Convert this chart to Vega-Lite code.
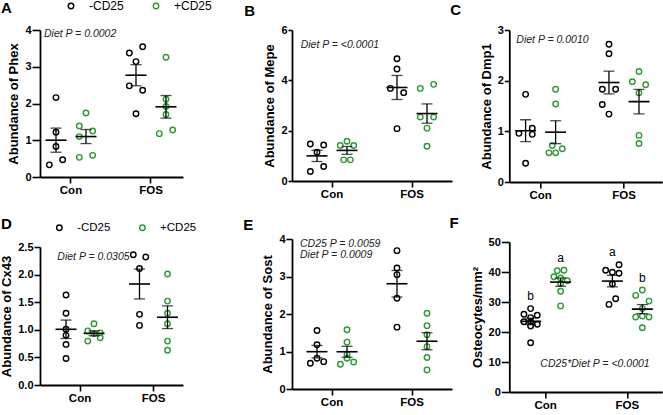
{
  "$schema": "https://vega.github.io/schema/vega-lite/v6.json",
  "padding": {"left": 0, "top": 0, "right": 0, "bottom": 0},
  "config": {
    "font": "Liberation Sans",
    "view": {"stroke": null},
    "axis": {"domainColor": "black", "domainWidth": 1.8, "tickColor": "black", "tickWidth": 1.6, "labelColor": "black", "labelFontWeight": "bold", "titleFontWeight": "bold", "titleColor": "black", "grid": false},
    "axisX": {"labelFontSize": 11.5, "labelAngle": 0, "tickSize": 6, "labelPadding": 1},
    "axisY": {"labelFontSize": 11, "titleFontSize": 13, "labelPadding": 1, "titlePadding": 4},
    "legend": {"labelFont": "Liberation Sans", "labelColor": "black", "symbolType": "circle", "symbolSize": 30, "symbolStrokeWidth": 1.4, "labelOffset": 12, "columnPadding": 26, "padding": 0}
  },
  "datasets": {
    "pts": [
      {"p":"A","d":"Con","g":"-CD25","s":"m-2","v":0.33},{"p":"A","d":"Con","g":"-CD25","s":"m2","v":0.47},{"p":"A","d":"Con","g":"-CD25","s":"m0","v":0.83},{"p":"A","d":"Con","g":"-CD25","s":"m0","v":1.22},{"p":"A","d":"Con","g":"-CD25","s":"m0","v":2.16},
      {"p":"A","d":"Con","g":"+CD25","s":"p-2","v":0.535},{"p":"A","d":"Con","g":"+CD25","s":"p2","v":0.59},{"p":"A","d":"Con","g":"+CD25","s":"p-2","v":1.10},{"p":"A","d":"Con","g":"+CD25","s":"p-2","v":1.39},{"p":"A","d":"Con","g":"+CD25","s":"p2","v":1.25},{"p":"A","d":"Con","g":"+CD25","s":"p0","v":1.74},
      {"p":"A","d":"FOS","g":"-CD25","s":"m-2","v":3.375},{"p":"A","d":"FOS","g":"-CD25","s":"m2","v":3.545},{"p":"A","d":"FOS","g":"-CD25","s":"m0","v":3.14},{"p":"A","d":"FOS","g":"-CD25","s":"m-2","v":2.48},{"p":"A","d":"FOS","g":"-CD25","s":"m2","v":2.36},{"p":"A","d":"FOS","g":"-CD25","s":"m0","v":1.72},
      {"p":"A","d":"FOS","g":"+CD25","s":"p0","v":3.26},{"p":"A","d":"FOS","g":"+CD25","s":"p0","v":2.115},{"p":"A","d":"FOS","g":"+CD25","s":"p0","v":1.92},{"p":"A","d":"FOS","g":"+CD25","s":"p0","v":1.70},{"p":"A","d":"FOS","g":"+CD25","s":"p-2","v":1.18},{"p":"A","d":"FOS","g":"+CD25","s":"p2","v":1.28},

      {"p":"B","d":"Con","g":"-CD25","s":"m-2","v":0.375},{"p":"B","d":"Con","g":"-CD25","s":"m2","v":0.576},{"p":"B","d":"Con","g":"-CD25","s":"m0","v":1.14},{"p":"B","d":"Con","g":"-CD25","s":"m-2","v":1.47},{"p":"B","d":"Con","g":"-CD25","s":"m2","v":1.43},
      {"p":"B","d":"Con","g":"+CD25","s":"p-2","v":1.41},{"p":"B","d":"Con","g":"+CD25","s":"p0","v":1.58},{"p":"B","d":"Con","g":"+CD25","s":"p2","v":1.41},{"p":"B","d":"Con","g":"+CD25","s":"p-1","v":0.84},{"p":"B","d":"Con","g":"+CD25","s":"p1","v":0.84},
      {"p":"B","d":"FOS","g":"-CD25","s":"m0","v":4.86},{"p":"B","d":"FOS","g":"-CD25","s":"m0","v":4.45},{"p":"B","d":"FOS","g":"-CD25","s":"m-2","v":3.68},{"p":"B","d":"FOS","g":"-CD25","s":"m2","v":3.51},{"p":"B","d":"FOS","g":"-CD25","s":"m0","v":2.08},
      {"p":"B","d":"FOS","g":"+CD25","s":"p-2","v":3.68},{"p":"B","d":"FOS","g":"+CD25","s":"p2","v":3.84},{"p":"B","d":"FOS","g":"+CD25","s":"p-2","v":2.54},{"p":"B","d":"FOS","g":"+CD25","s":"p2","v":2.54},{"p":"B","d":"FOS","g":"+CD25","s":"p0","v":2.10},{"p":"B","d":"FOS","g":"+CD25","s":"p0","v":1.38},

      {"p":"C","d":"Con","g":"-CD25","s":"m0","v":1.73},{"p":"C","d":"Con","g":"-CD25","s":"m-2","v":0.96},{"p":"C","d":"Con","g":"-CD25","s":"m2","v":1.06},{"p":"C","d":"Con","g":"-CD25","s":"m2","v":0.94},{"p":"C","d":"Con","g":"-CD25","s":"m0","v":0.37},
      {"p":"C","d":"Con","g":"+CD25","s":"p0","v":1.83},{"p":"C","d":"Con","g":"+CD25","s":"p0","v":1.54},{"p":"C","d":"Con","g":"+CD25","s":"p-2","v":0.576},{"p":"C","d":"Con","g":"+CD25","s":"p0","v":0.576},{"p":"C","d":"Con","g":"+CD25","s":"p2","v":0.656},{"p":"C","d":"Con","g":"+CD25","s":"p-1","v":0.72},
      {"p":"C","d":"FOS","g":"-CD25","s":"m0","v":2.72},{"p":"C","d":"FOS","g":"-CD25","s":"m0","v":2.53},{"p":"C","d":"FOS","g":"-CD25","s":"m-2","v":1.83},{"p":"C","d":"FOS","g":"-CD25","s":"m2","v":1.83},{"p":"C","d":"FOS","g":"-CD25","s":"m-2","v":1.53},{"p":"C","d":"FOS","g":"-CD25","s":"m0","v":1.34},
      {"p":"C","d":"FOS","g":"+CD25","s":"p0","v":2.18},{"p":"C","d":"FOS","g":"+CD25","s":"p-2","v":1.98},{"p":"C","d":"FOS","g":"+CD25","s":"p2","v":1.92},{"p":"C","d":"FOS","g":"+CD25","s":"p0","v":1.76},{"p":"C","d":"FOS","g":"+CD25","s":"p0","v":0.92},{"p":"C","d":"FOS","g":"+CD25","s":"p0","v":0.76},

      {"p":"D","d":"Con","g":"-CD25","s":"m0","v":1.63},{"p":"D","d":"Con","g":"-CD25","s":"m0","v":1.30},{"p":"D","d":"Con","g":"-CD25","s":"m0","v":1.01},{"p":"D","d":"Con","g":"-CD25","s":"m0","v":0.90},{"p":"D","d":"Con","g":"-CD25","s":"m0","v":0.735},{"p":"D","d":"Con","g":"-CD25","s":"m0","v":0.48},
      {"p":"D","d":"Con","g":"+CD25","s":"p-2","v":0.98},{"p":"D","d":"Con","g":"+CD25","s":"p0","v":1.11},{"p":"D","d":"Con","g":"+CD25","s":"p-2","v":0.795},{"p":"D","d":"Con","g":"+CD25","s":"p2","v":0.945},{"p":"D","d":"Con","g":"+CD25","s":"p2","v":0.855},{"p":"D","d":"Con","g":"+CD25","s":"p0","v":0.93},
      {"p":"D","d":"FOS","g":"-CD25","s":"m-2","v":2.36},{"p":"D","d":"FOS","g":"-CD25","s":"m2","v":2.32},{"p":"D","d":"FOS","g":"-CD25","s":"m0","v":2.11},{"p":"D","d":"FOS","g":"-CD25","s":"m0","v":1.28},{"p":"D","d":"FOS","g":"-CD25","s":"m0","v":1.08},
      {"p":"D","d":"FOS","g":"+CD25","s":"p0","v":2.01},{"p":"D","d":"FOS","g":"+CD25","s":"p0","v":1.52},{"p":"D","d":"FOS","g":"+CD25","s":"p0","v":1.30},{"p":"D","d":"FOS","g":"+CD25","s":"p0","v":1.11},{"p":"D","d":"FOS","g":"+CD25","s":"p0","v":0.795},{"p":"D","d":"FOS","g":"+CD25","s":"p0","v":0.63},

      {"p":"E","d":"Con","g":"-CD25","s":"m0","v":1.56},{"p":"E","d":"Con","g":"-CD25","s":"m0","v":1.18},{"p":"E","d":"Con","g":"-CD25","s":"m0","v":0.82},{"p":"E","d":"Con","g":"-CD25","s":"m-2","v":0.685},{"p":"E","d":"Con","g":"-CD25","s":"m2","v":0.73},
      {"p":"E","d":"Con","g":"+CD25","s":"p0","v":1.58},{"p":"E","d":"Con","g":"+CD25","s":"p0","v":1.25},{"p":"E","d":"Con","g":"+CD25","s":"p0","v":0.93},{"p":"E","d":"Con","g":"+CD25","s":"p0","v":0.82},{"p":"E","d":"Con","g":"+CD25","s":"p-2","v":0.66},{"p":"E","d":"Con","g":"+CD25","s":"p2","v":0.72},
      {"p":"E","d":"FOS","g":"-CD25","s":"m0","v":3.69},{"p":"E","d":"FOS","g":"-CD25","s":"m0","v":3.225},{"p":"E","d":"FOS","g":"-CD25","s":"m0","v":3.05},{"p":"E","d":"FOS","g":"-CD25","s":"m0","v":2.42},{"p":"E","d":"FOS","g":"-CD25","s":"m0","v":1.65},
      {"p":"E","d":"FOS","g":"+CD25","s":"p0","v":2.02},{"p":"E","d":"FOS","g":"+CD25","s":"p0","v":1.69},{"p":"E","d":"FOS","g":"+CD25","s":"p0","v":1.45},{"p":"E","d":"FOS","g":"+CD25","s":"p0","v":1.13},{"p":"E","d":"FOS","g":"+CD25","s":"p0","v":0.84},{"p":"E","d":"FOS","g":"+CD25","s":"p0","v":0.51},

      {"p":"F","d":"Con","g":"-CD25","s":"m0","v":27.8},{"p":"F","d":"Con","g":"-CD25","s":"m-2","v":25.9},{"p":"F","d":"Con","g":"-CD25","s":"m2","v":25.6},{"p":"F","d":"Con","g":"-CD25","s":"m0","v":24.8},{"p":"F","d":"Con","g":"-CD25","s":"m-2","v":23.4},{"p":"F","d":"Con","g":"-CD25","s":"m0","v":23.4},{"p":"F","d":"Con","g":"-CD25","s":"m2","v":22.6},{"p":"F","d":"Con","g":"-CD25","s":"m0","v":22.0},{"p":"F","d":"Con","g":"-CD25","s":"m0","v":16.4},
      {"p":"F","d":"Con","g":"+CD25","s":"p-1","v":40.4},{"p":"F","d":"Con","g":"+CD25","s":"p1","v":40.6},{"p":"F","d":"Con","g":"+CD25","s":"p-2","v":38.4},{"p":"F","d":"Con","g":"+CD25","s":"p0","v":38.0},{"p":"F","d":"Con","g":"+CD25","s":"p2","v":37.1},{"p":"F","d":"Con","g":"+CD25","s":"p0","v":36.2},{"p":"F","d":"Con","g":"+CD25","s":"p0","v":33.6},{"p":"F","d":"Con","g":"+CD25","s":"p0","v":28.7},
      {"p":"F","d":"FOS","g":"-CD25","s":"m-2","v":40.6},{"p":"F","d":"FOS","g":"-CD25","s":"m2","v":42.4},{"p":"F","d":"FOS","g":"-CD25","s":"m0","v":39.9},{"p":"F","d":"FOS","g":"-CD25","s":"m2","v":39.6},{"p":"F","d":"FOS","g":"-CD25","s":"m0","v":36.0},{"p":"F","d":"FOS","g":"-CD25","s":"m-1","v":29.2},{"p":"F","d":"FOS","g":"-CD25","s":"m1","v":31.1},
      {"p":"F","d":"FOS","g":"+CD25","s":"p0","v":34.0},{"p":"F","d":"FOS","g":"+CD25","s":"p-2","v":32.2},{"p":"F","d":"FOS","g":"+CD25","s":"p2","v":30.3},{"p":"F","d":"FOS","g":"+CD25","s":"p0","v":27.8},{"p":"F","d":"FOS","g":"+CD25","s":"p0","v":25.3},{"p":"F","d":"FOS","g":"+CD25","s":"p-2","v":25.0},{"p":"F","d":"FOS","g":"+CD25","s":"p2","v":25.0},{"p":"F","d":"FOS","g":"+CD25","s":"p0","v":21.4}
    ],
    "notes": [
      {"p":"A","d":"Con","v":3.9,"t":"Diet P = 0.0002"},
      {"p":"B","d":"Con","v":5.42,"t":"Diet P = <0.0001"},
      {"p":"C","d":"Con","v":2.8,"t":"Diet P = 0.0010"},
      {"p":"D","d":"Con","v":2.31,"t":"Diet P = 0.0305"},
      {"p":"E","d":"Con","v":3.88,"t":"CD25 P = 0.0059"},
      {"p":"E","d":"Con","v":3.58,"t":"Diet P = 0.0009"},
      {"p":"F","d":"Con","v":9.2,"t":"CD25*Diet P = <0.0001"}
    ],
    "letters": [
      {"p":"F","d":"Con","g":"-CD25","v":31.9,"t":"b"},
      {"p":"F","d":"Con","g":"+CD25","v":44.6,"t":"a"},
      {"p":"F","d":"FOS","g":"-CD25","v":46.7,"t":"a"},
      {"p":"F","d":"FOS","g":"+CD25","v":37.9,"t":"b"}
    ],
    "tags": [
      {"p":"A","d":"Con","t":"A"},
      {"p":"B","d":"Con","t":"B"},
      {"p":"C","d":"Con","t":"C"},
      {"p":"D","d":"Con","t":"D"},
      {"p":"E","d":"Con","t":"E"},
      {"p":"F","d":"Con","t":"F"}
    ]
  },
  "resolve": {"scale": {"x": "independent", "y": "independent", "xOffset": "independent"}, "legend": {"color": "independent"}},
  "spacing": 31,
  "hconcat": [
    {
      "resolve": {"scale": {"x": "independent", "y": "independent", "xOffset": "independent"}, "legend": {"color": "independent"}},
      "spacing": 21,
      "vconcat": [
        {
          "width": 143, "height": 147,
          "resolve": {"scale": {"xOffset": "independent"}},
          "layer": [
            {"data": {"name": "pts"}, "transform": [{"filter": "datum.p == 'A'"}],
             "mark": {"type": "point", "filled": false, "size": 30, "strokeWidth": 1.4, "opacity": 1},
             "encoding": {
               "x": {"field": "d", "type": "nominal", "title": null, "scale": {"domain": ["Con","FOS"], "paddingInner": 0.25, "paddingOuter": 0.01875, "align": 0.33}},
               "xOffset": {"field": "s", "type": "nominal", "scale": {"type": "band", "domain": ["m-4","m-3","m-2","m-1","m0","m1","m2","m3","m4","p-4","p-3","p-2","p-1","p0","p1","p2","p3","p4"], "paddingInner": 0, "paddingOuter": 0}},
               "y": {"field": "v", "type": "quantitative", "title": "Abundance of Phex", "scale": {"domain": [0, 4], "nice": false}, "axis": {"values": [0,1,2,3,4], "tickSize": 8}},
               "color": {"field": "g", "type": "nominal", "scale": {"domain": ["-CD25","+CD25"], "range": ["black","#2e9a36"]}, "legend": {"title": null, "orient": "none", "direction": "horizontal", "legendX": 25, "legendY": -30, "labelFontSize": 12}}
             }},
            {"data": {"name": "pts"}, "transform": [{"filter": "datum.p == 'A'"}],
             "mark": {"type": "errorbar", "extent": "stderr", "ticks": true, "size": 11, "thickness": 1.3, "color": "black"},
             "encoding": {
               "x": {"field": "d", "type": "nominal", "title": null, "scale": {"domain": ["Con","FOS"], "paddingInner": 0.25, "paddingOuter": 0.01875, "align": 0.33}},
               "xOffset": {"field": "g", "type": "nominal", "scale": {"type": "band", "domain": ["-CD25","+CD25"], "paddingInner": 0, "paddingOuter": 0}},
               "y": {"field": "v", "type": "quantitative", "title": "Abundance of Phex", "scale": {"domain": [0, 4], "nice": false}, "axis": {"values": [0,1,2,3,4], "tickSize": 8}}
             }},
            {"data": {"name": "pts"}, "transform": [{"filter": "datum.p == 'A'"}],
             "mark": {"type": "tick", "size": 21, "thickness": 1.6, "color": "black", "opacity": 1},
             "encoding": {
               "x": {"field": "d", "type": "nominal", "title": null, "scale": {"domain": ["Con","FOS"], "paddingInner": 0.25, "paddingOuter": 0.01875, "align": 0.33}},
               "xOffset": {"field": "g", "type": "nominal", "scale": {"type": "band", "domain": ["-CD25","+CD25"], "paddingInner": 0, "paddingOuter": 0}},
               "y": {"aggregate": "mean", "field": "v", "type": "quantitative", "title": "Abundance of Phex", "scale": {"domain": [0, 4], "nice": false}, "axis": {"values": [0,1,2,3,4], "tickSize": 8}}
             }},
            {"data": {"name": "notes"}, "transform": [{"filter": "datum.p == 'A'"}],
             "mark": {"type": "text", "align": "left", "baseline": "middle", "fontStyle": "italic", "fontSize": 10.5, "dx": 3, "color": "#222"},
             "encoding": {
               "x": {"field": "d", "type": "nominal", "title": null, "bandPosition": 0, "scale": {"domain": ["Con","FOS"], "paddingInner": 0.25, "paddingOuter": 0.01875, "align": 0.33}},
               "y": {"field": "v", "type": "quantitative", "title": "Abundance of Phex", "scale": {"domain": [0, 4], "nice": false}, "axis": {"values": [0,1,2,3,4], "tickSize": 8}},
               "text": {"field": "t"}
             }},
            {"data": {"name": "tags"}, "transform": [{"filter": "datum.p == 'A'"}],
             "mark": {"type": "text", "align": "left", "baseline": "alphabetic", "fontSize": 15, "fontWeight": "bold", "dx": -40, "dy": -16.7, "color": "black"},
             "encoding": {
               "x": {"field": "d", "type": "nominal", "title": null, "bandPosition": 0, "scale": {"domain": ["Con","FOS"], "paddingInner": 0.25, "paddingOuter": 0.01875, "align": 0.33}},
               "y": {"datum": 4, "type": "quantitative", "title": "Abundance of Phex", "scale": {"domain": [0, 4], "nice": false}, "axis": {"values": [0,1,2,3,4], "tickSize": 8}},
               "text": {"field": "t"}
             }}
          ]
        },
        {
          "width": 143, "height": 138,
          "resolve": {"scale": {"xOffset": "independent"}},
          "layer": [
            {"data": {"name": "pts"}, "transform": [{"filter": "datum.p == 'D'"}],
             "mark": {"type": "point", "filled": false, "size": 30, "strokeWidth": 1.4, "opacity": 1},
             "encoding": {
               "x": {"field": "d", "type": "nominal", "title": null, "scale": {"domain": ["Con","FOS"], "paddingInner": 0.238, "paddingOuter": 0.0918, "align": 0.89}},
               "xOffset": {"field": "s", "type": "nominal", "scale": {"type": "band", "domain": ["m-4","m-3","m-2","m-1","m0","m1","m2","m3","m4","p-4","p-3","p-2","p-1","p0","p1","p2","p3","p4"], "paddingInner": 0, "paddingOuter": 0}},
               "y": {"field": "v", "type": "quantitative", "title": "Abundance of Cx43", "scale": {"domain": [0, 2.5], "nice": false}, "axis": {"values": [0,0.5,1,1.5,2,2.5], "format": ".1f", "tickSize": 6}},
               "color": {"field": "g", "type": "nominal", "scale": {"domain": ["-CD25","+CD25"], "range": ["black","#2e9a36"]}, "legend": {"title": null, "orient": "none", "direction": "horizontal", "legendX": 13.6, "legendY": -25.3, "labelFontSize": 11.5}}
             }},
            {"data": {"name": "pts"}, "transform": [{"filter": "datum.p == 'D'"}],
             "mark": {"type": "errorbar", "extent": "stderr", "ticks": true, "size": 11, "thickness": 1.3, "color": "black"},
             "encoding": {
               "x": {"field": "d", "type": "nominal", "title": null, "scale": {"domain": ["Con","FOS"], "paddingInner": 0.238, "paddingOuter": 0.0918, "align": 0.89}},
               "xOffset": {"field": "g", "type": "nominal", "scale": {"type": "band", "domain": ["-CD25","+CD25"], "paddingInner": 0, "paddingOuter": 0}},
               "y": {"field": "v", "type": "quantitative", "title": "Abundance of Cx43", "scale": {"domain": [0, 2.5], "nice": false}, "axis": {"values": [0,0.5,1,1.5,2,2.5], "format": ".1f", "tickSize": 6}}
             }},
            {"data": {"name": "pts"}, "transform": [{"filter": "datum.p == 'D'"}],
             "mark": {"type": "tick", "size": 21, "thickness": 1.6, "color": "black", "opacity": 1},
             "encoding": {
               "x": {"field": "d", "type": "nominal", "title": null, "scale": {"domain": ["Con","FOS"], "paddingInner": 0.238, "paddingOuter": 0.0918, "align": 0.89}},
               "xOffset": {"field": "g", "type": "nominal", "scale": {"type": "band", "domain": ["-CD25","+CD25"], "paddingInner": 0, "paddingOuter": 0}},
               "y": {"aggregate": "mean", "field": "v", "type": "quantitative", "title": "Abundance of Cx43", "scale": {"domain": [0, 2.5], "nice": false}, "axis": {"values": [0,0.5,1,1.5,2,2.5], "format": ".1f", "tickSize": 6}}
             }},
            {"data": {"name": "notes"}, "transform": [{"filter": "datum.p == 'D'"}],
             "mark": {"type": "text", "align": "left", "baseline": "middle", "fontStyle": "italic", "fontSize": 10.5, "dx": 5.3, "color": "#222"},
             "encoding": {
               "x": {"field": "d", "type": "nominal", "title": null, "bandPosition": 0, "scale": {"domain": ["Con","FOS"], "paddingInner": 0.238, "paddingOuter": 0.0918, "align": 0.89}},
               "y": {"field": "v", "type": "quantitative", "title": "Abundance of Cx43", "scale": {"domain": [0, 2.5], "nice": false}, "axis": {"values": [0,0.5,1,1.5,2,2.5], "format": ".1f", "tickSize": 6}},
               "text": {"field": "t"}
             }},
            {"data": {"name": "tags"}, "transform": [{"filter": "datum.p == 'D'"}],
             "mark": {"type": "text", "align": "left", "baseline": "alphabetic", "fontSize": 15, "fontWeight": "bold", "dx": -51, "dy": -17.6, "color": "black"},
             "encoding": {
               "x": {"field": "d", "type": "nominal", "title": null, "bandPosition": 0, "scale": {"domain": ["Con","FOS"], "paddingInner": 0.238, "paddingOuter": 0.0918, "align": 0.89}},
               "y": {"datum": 2.5, "type": "quantitative", "title": "Abundance of Cx43", "scale": {"domain": [0, 2.5], "nice": false}, "axis": {"values": [0,0.5,1,1.5,2,2.5], "format": ".1f", "tickSize": 6}},
               "text": {"field": "t"}
             }}
          ]
        }
      ]
    },
    {
      "resolve": {"scale": {"x": "independent", "y": "independent", "xOffset": "independent"}, "legend": {"color": "independent"}},
      "spacing": -2.7,
      "hconcat": [
        {
          "resolve": {"scale": {"x": "independent", "y": "independent", "xOffset": "independent"}, "legend": {"color": "independent"}},
          "spacing": 17,
          "vconcat": [
            {
              "width": 160, "height": 151,
              "resolve": {"scale": {"xOffset": "independent"}},
              "layer": [
                {"data": {"name": "pts"}, "transform": [{"filter": "datum.p == 'B'"}],
                 "mark": {"type": "point", "filled": false, "size": 30, "strokeWidth": 1.4, "opacity": 1},
                 "encoding": {
                   "x": {"field": "d", "type": "nominal", "title": null, "scale": {"domain": ["Con","FOS"], "paddingInner": 0.25, "paddingOuter": 0.125}},
                   "xOffset": {"field": "s", "type": "nominal", "scale": {"type": "band", "domain": ["m-4","m-3","m-2","m-1","m0","m1","m2","m3","m4","p-4","p-3","p-2","p-1","p0","p1","p2","p3","p4"], "paddingInner": 0, "paddingOuter": 0}},
                   "y": {"field": "v", "type": "quantitative", "title": "Abundance of Mepe", "scale": {"domain": [0, 6], "nice": false}, "axis": {"values": [0,2,4,6], "tickSize": 4}},
                   "color": {"field": "g", "type": "nominal", "scale": {"domain": ["-CD25","+CD25"], "range": ["black","#2e9a36"]}, "legend": null}
                 }},
                {"data": {"name": "pts"}, "transform": [{"filter": "datum.p == 'B'"}],
                 "mark": {"type": "errorbar", "extent": "stderr", "ticks": true, "size": 11, "thickness": 1.3, "color": "black"},
                 "encoding": {
                   "x": {"field": "d", "type": "nominal", "title": null, "scale": {"domain": ["Con","FOS"], "paddingInner": 0.25, "paddingOuter": 0.125}},
                   "xOffset": {"field": "g", "type": "nominal", "scale": {"type": "band", "domain": ["-CD25","+CD25"], "paddingInner": 0, "paddingOuter": 0}},
                   "y": {"field": "v", "type": "quantitative", "title": "Abundance of Mepe", "scale": {"domain": [0, 6], "nice": false}, "axis": {"values": [0,2,4,6], "tickSize": 4}}
                 }},
                {"data": {"name": "pts"}, "transform": [{"filter": "datum.p == 'B'"}],
                 "mark": {"type": "tick", "size": 21, "thickness": 1.6, "color": "black", "opacity": 1},
                 "encoding": {
                   "x": {"field": "d", "type": "nominal", "title": null, "scale": {"domain": ["Con","FOS"], "paddingInner": 0.25, "paddingOuter": 0.125}},
                   "xOffset": {"field": "g", "type": "nominal", "scale": {"type": "band", "domain": ["-CD25","+CD25"], "paddingInner": 0, "paddingOuter": 0}},
                   "y": {"aggregate": "mean", "field": "v", "type": "quantitative", "title": "Abundance of Mepe", "scale": {"domain": [0, 6], "nice": false}, "axis": {"values": [0,2,4,6], "tickSize": 4}}
                 }},
                {"data": {"name": "notes"}, "transform": [{"filter": "datum.p == 'B'"}],
                 "mark": {"type": "text", "align": "left", "baseline": "middle", "fontStyle": "italic", "fontSize": 10.5, "dx": -1.3, "color": "#222"},
                 "encoding": {
                   "x": {"field": "d", "type": "nominal", "title": null, "bandPosition": 0, "scale": {"domain": ["Con","FOS"], "paddingInner": 0.25, "paddingOuter": 0.125}},
                   "y": {"field": "v", "type": "quantitative", "title": "Abundance of Mepe", "scale": {"domain": [0, 6], "nice": false}, "axis": {"values": [0,2,4,6], "tickSize": 4}},
                   "text": {"field": "t"}
                 }},
                {"data": {"name": "tags"}, "transform": [{"filter": "datum.p == 'B'"}],
                 "mark": {"type": "text", "align": "left", "baseline": "alphabetic", "fontSize": 15, "fontWeight": "bold", "dx": -57.7, "dy": -14.3, "color": "black"},
                 "encoding": {
                   "x": {"field": "d", "type": "nominal", "title": null, "bandPosition": 0, "scale": {"domain": ["Con","FOS"], "paddingInner": 0.25, "paddingOuter": 0.125}},
                   "y": {"datum": 6, "type": "quantitative", "title": "Abundance of Mepe", "scale": {"domain": [0, 6], "nice": false}, "axis": {"values": [0,2,4,6], "tickSize": 4}},
                   "text": {"field": "t"}
                 }}
              ]
            },
            {
              "width": 160, "height": 150,
              "resolve": {"scale": {"xOffset": "independent"}},
              "layer": [
                {"data": {"name": "pts"}, "transform": [{"filter": "datum.p == 'E'"}],
                 "mark": {"type": "point", "filled": false, "size": 30, "strokeWidth": 1.4, "opacity": 1},
                 "encoding": {
                   "x": {"field": "d", "type": "nominal", "title": null, "scale": {"domain": ["Con","FOS"], "paddingInner": 0.25, "paddingOuter": 0.125}},
                   "xOffset": {"field": "s", "type": "nominal", "scale": {"type": "band", "domain": ["m-4","m-3","m-2","m-1","m0","m1","m2","m3","m4","p-4","p-3","p-2","p-1","p0","p1","p2","p3","p4"], "paddingInner": 0, "paddingOuter": 0}},
                   "y": {"field": "v", "type": "quantitative", "title": "Abundance of Sost", "scale": {"domain": [0, 4], "nice": false}, "axis": {"values": [0,1,2,3,4], "tickSize": 6}},
                   "color": {"field": "g", "type": "nominal", "scale": {"domain": ["-CD25","+CD25"], "range": ["black","#2e9a36"]}, "legend": null}
                 }},
                {"data": {"name": "pts"}, "transform": [{"filter": "datum.p == 'E'"}],
                 "mark": {"type": "errorbar", "extent": "stderr", "ticks": true, "size": 11, "thickness": 1.3, "color": "black"},
                 "encoding": {
                   "x": {"field": "d", "type": "nominal", "title": null, "scale": {"domain": ["Con","FOS"], "paddingInner": 0.25, "paddingOuter": 0.125}},
                   "xOffset": {"field": "g", "type": "nominal", "scale": {"type": "band", "domain": ["-CD25","+CD25"], "paddingInner": 0, "paddingOuter": 0}},
                   "y": {"field": "v", "type": "quantitative", "title": "Abundance of Sost", "scale": {"domain": [0, 4], "nice": false}, "axis": {"values": [0,1,2,3,4], "tickSize": 6}}
                 }},
                {"data": {"name": "pts"}, "transform": [{"filter": "datum.p == 'E'"}],
                 "mark": {"type": "tick", "size": 21, "thickness": 1.6, "color": "black", "opacity": 1},
                 "encoding": {
                   "x": {"field": "d", "type": "nominal", "title": null, "scale": {"domain": ["Con","FOS"], "paddingInner": 0.25, "paddingOuter": 0.125}},
                   "xOffset": {"field": "g", "type": "nominal", "scale": {"type": "band", "domain": ["-CD25","+CD25"], "paddingInner": 0, "paddingOuter": 0}},
                   "y": {"aggregate": "mean", "field": "v", "type": "quantitative", "title": "Abundance of Sost", "scale": {"domain": [0, 4], "nice": false}, "axis": {"values": [0,1,2,3,4], "tickSize": 6}}
                 }},
                {"data": {"name": "notes"}, "transform": [{"filter": "datum.p == 'E'"}],
                 "mark": {"type": "text", "align": "left", "baseline": "middle", "fontStyle": "italic", "fontSize": 10.5, "dx": -2, "color": "#222"},
                 "encoding": {
                   "x": {"field": "d", "type": "nominal", "title": null, "bandPosition": 0, "scale": {"domain": ["Con","FOS"], "paddingInner": 0.25, "paddingOuter": 0.125}},
                   "y": {"field": "v", "type": "quantitative", "title": "Abundance of Sost", "scale": {"domain": [0, 4], "nice": false}, "axis": {"values": [0,1,2,3,4], "tickSize": 6}},
                   "text": {"field": "t"}
                 }},
                {"data": {"name": "tags"}, "transform": [{"filter": "datum.p == 'E'"}],
                 "mark": {"type": "text", "align": "left", "baseline": "alphabetic", "fontSize": 15, "fontWeight": "bold", "dx": -58.7, "dy": -9.4, "color": "black"},
                 "encoding": {
                   "x": {"field": "d", "type": "nominal", "title": null, "bandPosition": 0, "scale": {"domain": ["Con","FOS"], "paddingInner": 0.25, "paddingOuter": 0.125}},
                   "y": {"datum": 4, "type": "quantitative", "title": "Abundance of Sost", "scale": {"domain": [0, 4], "nice": false}, "axis": {"values": [0,1,2,3,4], "tickSize": 6}},
                   "text": {"field": "t"}
                 }}
              ]
            }
          ]
        },
        {
          "resolve": {"scale": {"x": "independent", "y": "independent", "xOffset": "independent"}, "legend": {"color": "independent"}},
          "spacing": 14,
          "vconcat": [
            {
              "width": 153, "height": 152,
              "resolve": {"scale": {"xOffset": "independent"}},
              "layer": [
                {"data": {"name": "pts"}, "transform": [{"filter": "datum.p == 'C'"}],
                 "mark": {"type": "point", "filled": false, "size": 30, "strokeWidth": 1.4, "opacity": 1},
                 "encoding": {
                   "x": {"field": "d", "type": "nominal", "title": null, "scale": {"domain": ["Con","FOS"], "paddingInner": 0.28, "paddingOuter": 0.0576, "align": 0.135}},
                   "xOffset": {"field": "s", "type": "nominal", "scale": {"type": "band", "domain": ["m-4","m-3","m-2","m-1","m0","m1","m2","m3","m4","p-4","p-3","p-2","p-1","p0","p1","p2","p3","p4"], "paddingInner": 0, "paddingOuter": 0}},
                   "y": {"field": "v", "type": "quantitative", "title": "Abundance of Dmp1", "scale": {"domain": [0, 3], "nice": false}, "axis": {"values": [0,1,2,3], "tickSize": 5}},
                   "color": {"field": "g", "type": "nominal", "scale": {"domain": ["-CD25","+CD25"], "range": ["black","#2e9a36"]}, "legend": null}
                 }},
                {"data": {"name": "pts"}, "transform": [{"filter": "datum.p == 'C'"}],
                 "mark": {"type": "errorbar", "extent": "stderr", "ticks": true, "size": 11, "thickness": 1.3, "color": "black"},
                 "encoding": {
                   "x": {"field": "d", "type": "nominal", "title": null, "scale": {"domain": ["Con","FOS"], "paddingInner": 0.28, "paddingOuter": 0.0576, "align": 0.135}},
                   "xOffset": {"field": "g", "type": "nominal", "scale": {"type": "band", "domain": ["-CD25","+CD25"], "paddingInner": 0, "paddingOuter": 0}},
                   "y": {"field": "v", "type": "quantitative", "title": "Abundance of Dmp1", "scale": {"domain": [0, 3], "nice": false}, "axis": {"values": [0,1,2,3], "tickSize": 5}}
                 }},
                {"data": {"name": "pts"}, "transform": [{"filter": "datum.p == 'C'"}],
                 "mark": {"type": "tick", "size": 21, "thickness": 1.6, "color": "black", "opacity": 1},
                 "encoding": {
                   "x": {"field": "d", "type": "nominal", "title": null, "scale": {"domain": ["Con","FOS"], "paddingInner": 0.28, "paddingOuter": 0.0576, "align": 0.135}},
                   "xOffset": {"field": "g", "type": "nominal", "scale": {"type": "band", "domain": ["-CD25","+CD25"], "paddingInner": 0, "paddingOuter": 0}},
                   "y": {"aggregate": "mean", "field": "v", "type": "quantitative", "title": "Abundance of Dmp1", "scale": {"domain": [0, 3], "nice": false}, "axis": {"values": [0,1,2,3], "tickSize": 5}}
                 }},
                {"data": {"name": "notes"}, "transform": [{"filter": "datum.p == 'C'"}],
                 "mark": {"type": "text", "align": "left", "baseline": "middle", "fontStyle": "italic", "fontSize": 10.5, "dx": 5.7, "color": "#222"},
                 "encoding": {
                   "x": {"field": "d", "type": "nominal", "title": null, "bandPosition": 0, "scale": {"domain": ["Con","FOS"], "paddingInner": 0.28, "paddingOuter": 0.0576, "align": 0.135}},
                   "y": {"field": "v", "type": "quantitative", "title": "Abundance of Dmp1", "scale": {"domain": [0, 3], "nice": false}, "axis": {"values": [0,1,2,3], "tickSize": 5}},
                   "text": {"field": "t"}
                 }},
                {"data": {"name": "tags"}, "transform": [{"filter": "datum.p == 'C'"}],
                 "mark": {"type": "text", "align": "left", "baseline": "alphabetic", "fontSize": 15, "fontWeight": "bold", "dx": -60.3, "dy": -15, "color": "black"},
                 "encoding": {
                   "x": {"field": "d", "type": "nominal", "title": null, "bandPosition": 0, "scale": {"domain": ["Con","FOS"], "paddingInner": 0.28, "paddingOuter": 0.0576, "align": 0.135}},
                   "y": {"datum": 3, "type": "quantitative", "title": "Abundance of Dmp1", "scale": {"domain": [0, 3], "nice": false}, "axis": {"values": [0,1,2,3], "tickSize": 5}},
                   "text": {"field": "t"}
                 }}
              ]
            },
            {
              "width": 153, "height": 150,
              "resolve": {"scale": {"xOffset": "independent"}},
              "layer": [
                {"data": {"name": "pts"}, "transform": [{"filter": "datum.p == 'F'"}],
                 "mark": {"type": "point", "filled": false, "size": 30, "strokeWidth": 1.4, "opacity": 1},
                 "encoding": {
                   "x": {"field": "d", "type": "nominal", "title": null, "scale": {"domain": ["Con","FOS"], "paddingInner": 0.266, "paddingOuter": 0.069, "align": 0.56}},
                   "xOffset": {"field": "s", "type": "nominal", "scale": {"type": "band", "domain": ["m-4","m-3","m-2","m-1","m0","m1","m2","m3","m4","p-4","p-3","p-2","p-1","p0","p1","p2","p3","p4"], "paddingInner": 0, "paddingOuter": 0}},
                   "y": {"field": "v", "type": "quantitative", "title": "Osteocytes/mm²", "scale": {"domain": [0, 50], "nice": false}, "axis": {"values": [0,10,20,30,40,50], "tickSize": 8}},
                   "color": {"field": "g", "type": "nominal", "scale": {"domain": ["-CD25","+CD25"], "range": ["black","#2e9a36"]}, "legend": null}
                 }},
                {"data": {"name": "pts"}, "transform": [{"filter": "datum.p == 'F'"}],
                 "mark": {"type": "errorbar", "extent": "stderr", "ticks": true, "size": 11, "thickness": 1.3, "color": "black"},
                 "encoding": {
                   "x": {"field": "d", "type": "nominal", "title": null, "scale": {"domain": ["Con","FOS"], "paddingInner": 0.266, "paddingOuter": 0.069, "align": 0.56}},
                   "xOffset": {"field": "g", "type": "nominal", "scale": {"type": "band", "domain": ["-CD25","+CD25"], "paddingInner": 0, "paddingOuter": 0}},
                   "y": {"field": "v", "type": "quantitative", "title": "Osteocytes/mm²", "scale": {"domain": [0, 50], "nice": false}, "axis": {"values": [0,10,20,30,40,50], "tickSize": 8}}
                 }},
                {"data": {"name": "pts"}, "transform": [{"filter": "datum.p == 'F'"}],
                 "mark": {"type": "tick", "size": 21, "thickness": 1.6, "color": "black", "opacity": 1},
                 "encoding": {
                   "x": {"field": "d", "type": "nominal", "title": null, "scale": {"domain": ["Con","FOS"], "paddingInner": 0.266, "paddingOuter": 0.069, "align": 0.56}},
                   "xOffset": {"field": "g", "type": "nominal", "scale": {"type": "band", "domain": ["-CD25","+CD25"], "paddingInner": 0, "paddingOuter": 0}},
                   "y": {"aggregate": "mean", "field": "v", "type": "quantitative", "title": "Osteocytes/mm²", "scale": {"domain": [0, 50], "nice": false}, "axis": {"values": [0,10,20,30,40,50], "tickSize": 8}}
                 }},
                {"data": {"name": "notes"}, "transform": [{"filter": "datum.p == 'F'"}],
                 "mark": {"type": "text", "align": "left", "baseline": "middle", "fontStyle": "italic", "fontSize": 10.5, "dx": 24.7, "color": "#222"},
                 "encoding": {
                   "x": {"field": "d", "type": "nominal", "title": null, "bandPosition": 0, "scale": {"domain": ["Con","FOS"], "paddingInner": 0.266, "paddingOuter": 0.069, "align": 0.56}},
                   "y": {"field": "v", "type": "quantitative", "title": "Osteocytes/mm²", "scale": {"domain": [0, 50], "nice": false}, "axis": {"values": [0,10,20,30,40,50], "tickSize": 8}},
                   "text": {"field": "t"}
                 }},
                {"data": {"name": "letters"}, "transform": [{"filter": "datum.p == 'F'"}],
                 "mark": {"type": "text", "align": "center", "baseline": "middle", "fontSize": 12, "color": "black"},
                 "encoding": {
                   "x": {"field": "d", "type": "nominal", "title": null, "scale": {"domain": ["Con","FOS"], "paddingInner": 0.266, "paddingOuter": 0.069, "align": 0.56}},
                   "xOffset": {"field": "g", "type": "nominal", "scale": {"type": "band", "domain": ["-CD25","+CD25"], "paddingInner": 0, "paddingOuter": 0}},
                   "y": {"field": "v", "type": "quantitative", "title": "Osteocytes/mm²", "scale": {"domain": [0, 50], "nice": false}, "axis": {"values": [0,10,20,30,40,50], "tickSize": 8}},
                   "text": {"field": "t"}
                 }},
                {"data": {"name": "tags"}, "transform": [{"filter": "datum.p == 'F'"}],
                 "mark": {"type": "text", "align": "left", "baseline": "alphabetic", "fontSize": 15, "fontWeight": "bold", "dx": -66, "dy": -14.3, "color": "black"},
                 "encoding": {
                   "x": {"field": "d", "type": "nominal", "title": null, "bandPosition": 0, "scale": {"domain": ["Con","FOS"], "paddingInner": 0.266, "paddingOuter": 0.069, "align": 0.56}},
                   "y": {"datum": 50, "type": "quantitative", "title": "Osteocytes/mm²", "scale": {"domain": [0, 50], "nice": false}, "axis": {"values": [0,10,20,30,40,50], "tickSize": 8}},
                   "text": {"field": "t"}
                 }}
              ]
            }
          ]
        }
      ]
    }
  ]
}
